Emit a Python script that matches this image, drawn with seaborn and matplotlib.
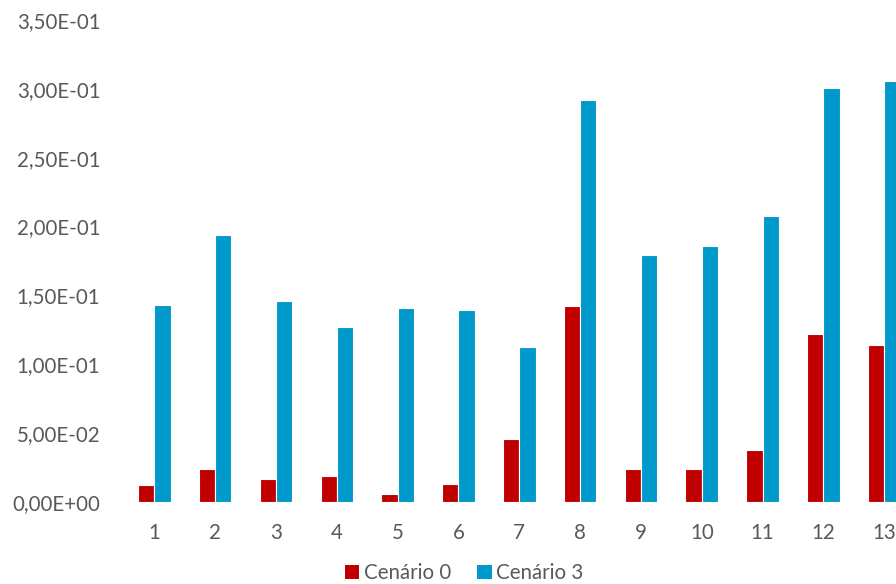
import matplotlib
matplotlib.use("Agg")
import matplotlib.pyplot as plt
from matplotlib.ticker import FuncFormatter, MultipleLocator
from matplotlib.patches import Patch
import seaborn as sns
import pandas as pd

categories = [str(i) for i in range(1, 14)]
series_names = ["Cenário 0", "Cenário 3"]
cenario_0 = [0.0124, 0.0238, 0.0167, 0.0187, 0.0061, 0.0134, 0.0456,
             0.1424, 0.0236, 0.0240, 0.0379, 0.1221, 0.1138]
cenario_3 = [0.1434, 0.1936, 0.1463, 0.1274, 0.1410, 0.1393, 0.1124,
             0.2921, 0.1793, 0.1861, 0.2080, 0.3007, 0.3055]
colors = ["#C00000", "#0099CC"]

df = pd.DataFrame({
    "cat": categories * 2,
    "serie": [series_names[0]] * len(categories) + [series_names[1]] * len(categories),
    "valor": cenario_0 + cenario_3,
})

sns.set_theme(style="white")
plt.rcParams["font.family"] = ["Lato", "DejaVu Sans"]
text_color = "#595959"
fs = 14.8

fig = plt.figure(figsize=(8.96, 5.84), dpi=100)
ax = fig.add_axes([124 / 896, 1 - 502 / 584, 1 - 124 / 896, (502 - 20) / 584])

sns.barplot(data=df, x="cat", y="valor", hue="serie", order=categories,
            hue_order=series_names, palette=colors, width=0.535,
            edgecolor="white", linewidth=0.8, saturation=1, ax=ax, legend=False)

ax.set_xlim(-0.5, 12.194)
ax.set_ylim(0, 0.35)
ax.yaxis.set_major_locator(MultipleLocator(0.05))
ax.yaxis.set_major_formatter(FuncFormatter(lambda v, p: f"{v:.2E}".replace(".", ",")))
ax.set_xlabel("")
ax.set_ylabel("")
for s in ax.spines.values():
    s.set_visible(False)
ax.tick_params(axis="y", length=0, pad=17, labelsize=fs, labelcolor=text_color)
ax.tick_params(axis="x", length=0, pad=15, labelsize=fs, labelcolor=text_color)
ax.grid(False)

handles = [Patch(facecolor=c, edgecolor="none", label=n) for c, n in zip(colors, series_names)]
fig.legend(handles=handles, loc="center", bbox_to_anchor=(0.518, 1 - 573 / 584),
           ncol=2, frameon=False, fontsize=fs, labelcolor=text_color,
           handlelength=0.7, handleheight=0.7, handletextpad=0.2, columnspacing=1.3)

fig.savefig("out.png", dpi=100)
